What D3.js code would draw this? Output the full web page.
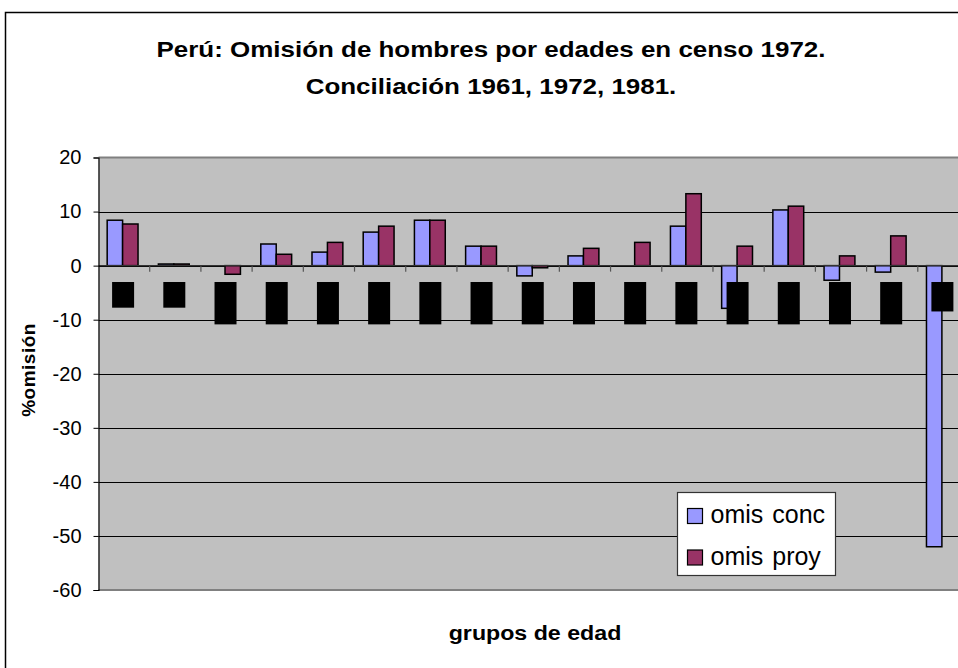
<!DOCTYPE html>
<html>
<head>
<meta charset="utf-8">
<script src="https://cdn.jsdelivr.net/npm/d3@7"></script>
<style>
  body { margin: 0; background: #fff; }
  text { font-family: "Liberation Sans", Arial, sans-serif; }
</style>
</head>
<body>
<svg width="958" height="668"></svg>
<script>
'use strict';

// age groups (the x labels are drawn black on black like in the original)
var groups = ['0-4', '5-9', '10-14', '15-19', '20-24', '25-29', '30-34', '35-39',
    '40-44', '45-49', '50-54', '55-59', '60-64', '65-69', '70-74', '75-79', '80+'];

var seriesNames = ['omis conc', 'omis proy'];

var omisConc = [8.4, 0.3, 0, 4.0, 2.5, 6.2, 8.4, 3.6, -1.9, 1.8, 0, 7.3, -7.9, 10.3, -2.7, -1.2, -52.0];
var omisProy = [7.7, 0.3, -1.6, 2.1, 4.3, 7.3, 8.4, 3.6, -0.4, 3.2, 4.3, 13.3, 3.6, 11.0, 1.8, 5.5, null];

var yTicks = [20, 10, 0, -10, -20, -30, -40, -50, -60];

var colors = ['#9999ff', '#993366'];

var svg = d3.select('svg');

// outer chart frame, goes off the window on the right and bottom
svg.append('rect')
    .attr('x', 5.5).attr('y', 12.5)
    .attr('width', 990).attr('height', 700)
    .attr('fill', '#fff')
    .attr('stroke', '#000')
    .attr('stroke-width', 1.5);

var plot = {left: 98.5, right: 969, top: 157.5, bottom: 590};

var x = d3.scaleBand()
    .domain(groups)
    .range([plot.left, plot.right]);

var xSub = d3.scaleBand()
    .domain(seriesNames)
    .range([0, x.bandwidth()])
    .paddingOuter(0.66);

var y = d3.scaleLinear()
    .domain([-60, 20])
    .range([plot.bottom, plot.top]);

// gray plot area
svg.append('rect')
    .attr('x', plot.left).attr('y', plot.top)
    .attr('width', plot.right - plot.left)
    .attr('height', plot.bottom - plot.top)
    .attr('fill', '#c0c0c0');

// gridlines
svg.append('g')
    .selectAll('line')
    .data(yTicks.filter(function (d) { return d !== 20 && d !== -60; }))
    .enter().append('line')
    .attr('x1', plot.left).attr('x2', plot.right)
    .attr('y1', function (d) { return Math.round(y(d)) + 0.5; })
    .attr('y2', function (d) { return Math.round(y(d)) + 0.5; })
    .attr('stroke', '#000')
    .attr('stroke-width', 1.2);

// top and bottom border of plot area
svg.append('line')
    .attr('x1', plot.left).attr('x2', plot.right)
    .attr('y1', plot.top).attr('y2', plot.top)
    .attr('stroke', '#808080').attr('stroke-width', 2);
svg.append('line')
    .attr('x1', plot.left).attr('x2', plot.right)
    .attr('y1', plot.bottom).attr('y2', plot.bottom)
    .attr('stroke', '#808080').attr('stroke-width', 2);

// category ticks on the zero line
svg.append('g')
    .selectAll('line')
    .data(groups.slice(1))
    .enter().append('line')
    .attr('x1', function (d) { return x(d); })
    .attr('x2', function (d) { return x(d); })
    .attr('y1', y(0)).attr('y2', y(0) + 6)
    .attr('stroke', '#555')
    .attr('stroke-width', 1.2);

// bars
var rows = groups.map(function (g, i) {
    return {group: g, vals: [omisConc[i], omisProy[i]]};
});

var barG = svg.append('g')
    .selectAll('g')
    .data(rows)
    .enter().append('g')
    .attr('transform', function (d) { return 'translate(' + (x(d.group) - 1.5) + ',0)'; });

barG.selectAll('rect')
    .data(function (d) {
        return d.vals.map(function (v, j) { return {name: seriesNames[j], value: v, j: j}; })
            .filter(function (e) { return e.value !== null && e.value !== 0; });
    })
    .enter().append('rect')
    .attr('x', function (d) { return xSub(d.name); })
    .attr('width', xSub.bandwidth())
    .attr('y', function (d) { return Math.min(y(d.value), y(0)); })
    .attr('height', function (d) { return Math.max(Math.abs(y(d.value) - y(0)), 1); })
    .attr('fill', function (d) { return colors[d.j]; })
    .attr('stroke', '#000')
    .attr('stroke-width', 1.5);

// x axis line at zero
svg.append('line')
    .attr('x1', plot.left).attr('x2', plot.right)
    .attr('y1', y(0)).attr('y2', y(0))
    .attr('stroke', '#333')
    .attr('stroke-width', 1.2);

// category labels: black text on black boxes
var labG = svg.append('g')
    .selectAll('g')
    .data(groups)
    .enter().append('g')
    .attr('transform', function (d) {
        return 'translate(' + (x(d) + x.bandwidth() / 2 - 1) + ',' + 282 + ')';
    });

labG.append('text')
    .attr('transform', 'rotate(90)')
    .attr('x', 2).attr('y', 6)
    .attr('font-size', 15)
    .attr('fill', '#000')
    .text(function (d) { return d; })
    .each(function () {
        var w = this.getComputedTextLength();
        d3.select(this.parentNode).insert('rect', 'text')
            .attr('x', -11).attr('y', 0)
            .attr('width', 22).attr('height', w + 4)
            .attr('fill', '#000');
    });

// y axis
var yAxis = d3.axisLeft(y)
    .tickValues(yTicks)
    .tickFormat(function (d) { return String(d); })
    .tickSize(5)
    .tickPadding(12);

var yG = svg.append('g')
    .attr('transform', 'translate(' + plot.left + ',0)')
    .call(yAxis);
yG.select('.domain').attr('stroke', '#000').attr('stroke-width', 1.2);
yG.selectAll('.tick line').attr('stroke', '#000');
yG.selectAll('.tick text')
    .attr('font-family', '"Liberation Sans", Arial, sans-serif')
    .attr('font-size', 20)
    .attr('fill', '#000');

// titles (original text is a bit stretched sideways)
svg.append('text')
    .attr('transform', 'translate(491,57) scale(1.18,1)')
    .attr('text-anchor', 'middle')
    .attr('font-size', 22).attr('font-weight', 'bold')
    .text('Perú: Omisión de hombres por edades en censo 1972.');
svg.append('text')
    .attr('transform', 'translate(491,94) scale(1.18,1)')
    .attr('text-anchor', 'middle')
    .attr('font-size', 22).attr('font-weight', 'bold')
    .text('Conciliación 1961, 1972, 1981.');

svg.append('text')
    .attr('transform', 'translate(535,640) scale(1.16,1)')
    .attr('text-anchor', 'middle')
    .attr('font-size', 20).attr('font-weight', 'bold')
    .text('grupos de edad');

svg.append('text')
    .attr('transform', 'translate(35,370) rotate(-90)')
    .attr('text-anchor', 'middle')
    .attr('font-size', 19).attr('font-weight', 'bold')
    .attr('letter-spacing', 0.5)
    .text('%omisión');

// legend
var legend = svg.append('g').attr('transform', 'translate(677.5,492.5)');
legend.append('rect')
    .attr('width', 158).attr('height', 83)
    .attr('fill', '#fff')
    .attr('stroke', '#333')
    .attr('stroke-width', 1.2);

var item = legend.selectAll('g')
    .data(seriesNames)
    .enter().append('g')
    .attr('transform', function (d, i) { return 'translate(10,' + (16 + i * 41.5) + ')'; });

item.append('rect')
    .attr('width', 15).attr('height', 15)
    .attr('fill', function (d, i) { return colors[i]; })
    .attr('stroke', '#000')
    .attr('stroke-width', 1.2);

item.append('text')
    .attr('x', 23).attr('y', 14.5)
    .attr('font-size', 25)
    .attr('word-spacing', 2)
    .text(function (d) { return d; });
</script>
</body>
</html>
